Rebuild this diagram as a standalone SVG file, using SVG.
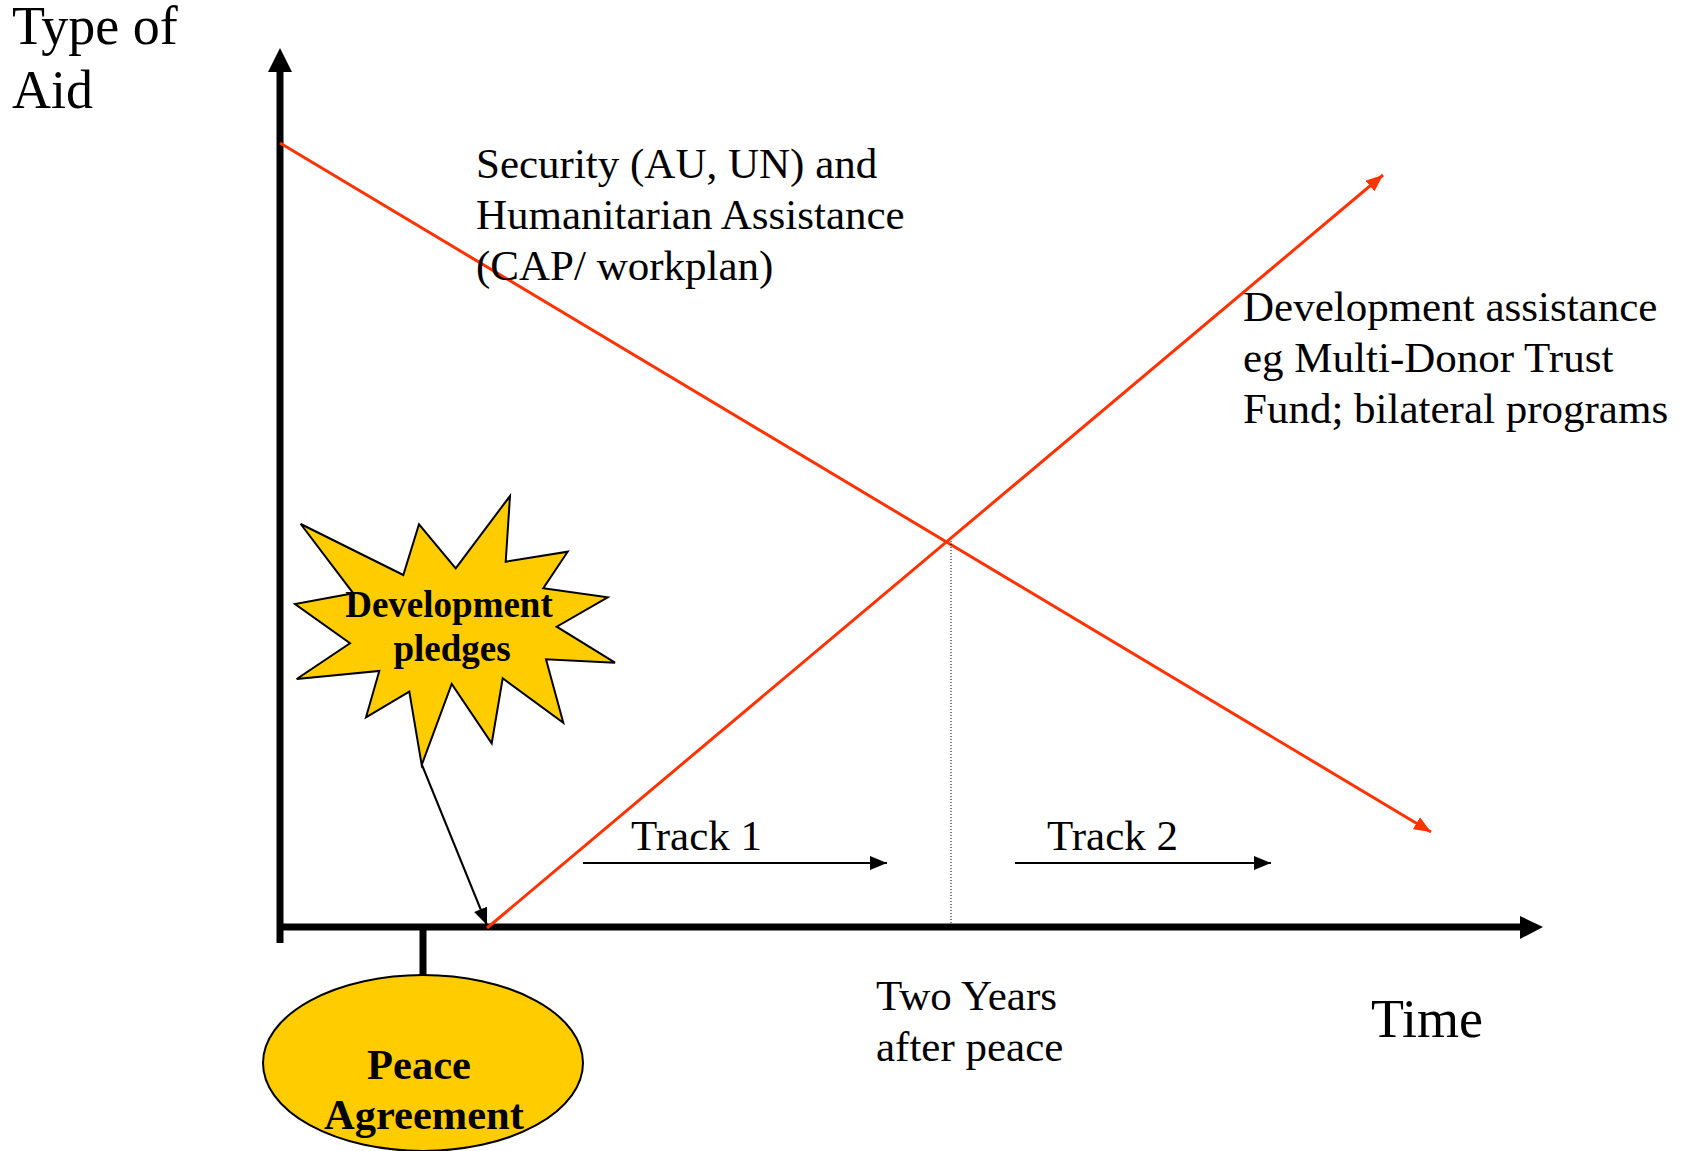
<svg xmlns="http://www.w3.org/2000/svg" width="1685" height="1151" viewBox="0 0 1685 1151">
<style>
.t{font-family:"Liberation Serif","Times New Roman",serif;fill:#000}
.lbl{font-size:43px}
.big{font-size:54px}
.b{font-weight:bold;text-anchor:middle}
.red{stroke:#FF3300;stroke-width:3;fill:none}
.blk{stroke:#000;stroke-width:2;fill:none}
.axis{stroke:#000;stroke-width:7;fill:none}
.shape{fill:#FFCC00;stroke:#000;stroke-width:2}
</style>
<defs>
<marker id="redArrow" markerUnits="userSpaceOnUse" markerWidth="18" markerHeight="14" refX="17" refY="7" orient="auto">
<path d="M0,0 L17,7 L0,14 z" fill="#FF3300"/>
</marker>
<marker id="blkArrow" markerUnits="userSpaceOnUse" markerWidth="18" markerHeight="14" refX="17" refY="7" orient="auto">
<path d="M0,0 L17,7 L0,14 z" fill="#000"/>
</marker>
</defs>
<rect width="1685" height="1151" fill="#fff"/>
<g id="axes">
<line class="axis" x1="280" y1="943" x2="280" y2="70"/>
<polygon points="268,72 280,48 292,72" fill="#000"/>
<line class="axis" x1="277" y1="927" x2="1521" y2="927"/>
<polygon points="1520,916 1543,927 1520,939" fill="#000"/>
<line class="axis" x1="423" y1="927" x2="423" y2="976"/>
</g>
<g id="connectors">
<line class="red" x1="280" y1="143" x2="1431" y2="832" marker-end="url(#redArrow)"/>
<line class="red" x1="487" y1="928" x2="1383" y2="175" marker-end="url(#redArrow)"/>
<line class="blk" x1="422" y1="765" x2="487" y2="925" marker-end="url(#blkArrow)"/>
<line class="blk" x1="583" y1="863" x2="887" y2="863" marker-end="url(#blkArrow)"/>
<line class="blk" x1="1015" y1="863" x2="1271" y2="863" marker-end="url(#blkArrow)"/>
<line x1="951" y1="541" x2="951" y2="924" stroke="#000" stroke-width="1" stroke-dasharray="1,2"/>
</g>
<g id="pledges">
<polygon class="shape" points="300.7,524 403.3,575 419,524.3 455.7,568.3 510,496 505.7,561.7 567.7,551.7 543.3,588.3 607.7,597.3 556.7,626.7 615,662.7 546,659.3 563.3,722.7 502.7,678.3 491.7,743.3 451.7,684 421.7,765 409.3,691.7 366,717.3 379.3,671 296.7,679 350,643.3 295,604 353.3,593.3"/>
<text class="t b" font-size="37" x="449" y="617">Development</text>
<text class="t b" font-size="37" x="452" y="661">pledges</text>
</g>
<g id="peace">
<ellipse class="shape" cx="423" cy="1063" rx="160" ry="88"/>
<text class="t b" font-size="42.5" x="419" y="1079">Peace</text>
<text class="t b" font-size="42.5" x="424" y="1129">Agreement</text>
</g>
<g id="yLabel">
<text class="t big" x="12" y="44">Type of</text>
<text class="t big" x="12" y="108">Aid</text>
</g>
<g id="xLabel">
<text class="t big" x="1371" y="1037">Time</text>
</g>
<g id="security">
<text class="t lbl" x="476" y="178">Security (AU, UN) and</text>
<text class="t lbl" x="476" y="229">Humanitarian Assistance</text>
<text class="t lbl" x="476" y="280">(CAP/ workplan)</text>
</g>
<g id="development">
<text class="t lbl" x="1243" y="321">Development assistance</text>
<text class="t lbl" x="1243" y="372">eg Multi-Donor Trust</text>
<text class="t lbl" x="1243" y="423">Fund; bilateral programs</text>
</g>
<g id="track1"><text class="t lbl" x="631" y="850">Track 1</text></g>
<g id="track2"><text class="t lbl" x="1047" y="850">Track 2</text></g>
<g id="twoYears">
<text class="t lbl" x="876" y="1010">Two Years</text>
<text class="t lbl" x="876" y="1061">after peace</text>
</g>
</svg>
